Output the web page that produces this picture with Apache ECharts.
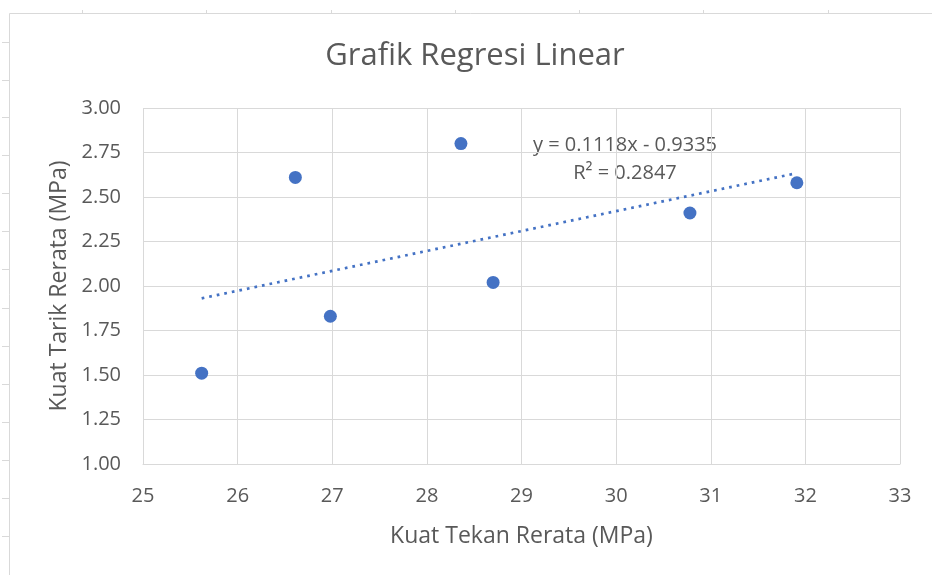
<!DOCTYPE html>
<html>
<head>
<meta charset="utf-8">
<script src="https://cdn.jsdelivr.net/npm/echarts@6/dist/echarts.min.js"></script>
<style>
  html, body { margin: 0; padding: 0; background: #ffffff; }
  #chart { width: 932px; height: 575px; }
</style>
</head>
<body>
<div id="chart"></div>
<script>
// ---- data ----
const chartTitle = 'Grafik Regresi Linear';
const xAxisTitle = 'Kuat Tekan Rerata (MPa)';
const yAxisTitle = 'Kuat Tarik Rerata (MPa)';
const kuatTekan = [25.62, 26.61, 26.98, 28.36, 28.70, 30.78, 31.91];
const kuatTarik = [1.51, 2.61, 1.83, 2.80, 2.02, 2.41, 2.58];
const trendSlope = 0.1118;
const trendIntercept = -0.9335;
const equationLabel = 'y = 0.1118x - 0.9335';
const r2Label = 'R² = 0.2847';
const xRange = [25, 33, 1];
const yRange = [1, 3, 0.25];

// ---- spreadsheet frame decoration (layout only) ----
const sheetColTicks = [82, 206, 331, 455, 579, 703, 828];
const sheetRowTicks = [42, 80, 117, 155, 193, 231, 269, 308, 346, 384, 422, 460, 498, 536];

const TEXT = '#595959';
const GRID = '#D9D9D9';
const BLUE = '#4472C4';
const FONT = '"Open Sans", sans-serif';

const points = kuatTekan.map((x, i) => [x, kuatTarik[i]]);
const xMinData = Math.min(...kuatTekan);
const xMaxData = Math.max(...kuatTekan);
const trendPoints = [
  [xMinData, trendSlope * xMinData + trendIntercept],
  [xMaxData, trendSlope * xMaxData + trendIntercept]
];

const graphics = [];
graphics.push({ type: 'line', silent: true, shape: { x1: 9.5, y1: 13.5, x2: 932, y2: 13.5 }, style: { stroke: GRID, lineWidth: 1 } });
graphics.push({ type: 'line', silent: true, shape: { x1: 9.5, y1: 13.5, x2: 9.5, y2: 575 }, style: { stroke: GRID, lineWidth: 1 } });
sheetColTicks.forEach(x => graphics.push({ type: 'line', silent: true, shape: { x1: x + 0.5, y1: 10, x2: x + 0.5, y2: 13 }, style: { stroke: GRID, lineWidth: 1 } }));
sheetRowTicks.forEach(y => graphics.push({ type: 'line', silent: true, shape: { x1: 2, y1: y + 0.5, x2: 9, y2: y + 0.5 }, style: { stroke: GRID, lineWidth: 1 } }));
graphics.push({ type: 'text', silent: true, x: 625, y: 145, style: { text: equationLabel, fill: TEXT, font: '20px ' + FONT, textAlign: 'center', textVerticalAlign: 'middle' } });
graphics.push({ type: 'text', silent: true, x: 625, y: 173.5, style: { text: r2Label, fill: TEXT, font: '20px ' + FONT, textAlign: 'center', textVerticalAlign: 'middle' } });

const chart = echarts.init(document.getElementById('chart'));
chart.setOption({
  backgroundColor: '#ffffff',
  animation: false,
  title: {
    text: chartTitle,
    left: 475,
    top: 41,
    padding: 0,
    textAlign: 'center',
    textStyle: { fontFamily: FONT, fontSize: 31, fontWeight: 'normal', color: TEXT }
  },
  grid: { left: 143, right: 32, top: 108, bottom: 111 },
  xAxis: {
    type: 'value',
    min: xRange[0], max: xRange[1], interval: xRange[2],
    name: xAxisTitle,
    nameLocation: 'middle',
    nameGap: 61,
    nameTextStyle: { fontFamily: FONT, fontSize: 23, color: TEXT },
    axisLine: { show: true, lineStyle: { color: GRID, width: 1 } },
    axisTick: { show: false },
    axisLabel: { margin: 22, fontFamily: FONT, fontSize: 20, color: TEXT },
    splitLine: { show: true, lineStyle: { color: GRID, width: 1 } }
  },
  yAxis: {
    type: 'value',
    min: yRange[0], max: yRange[1], interval: yRange[2],
    name: yAxisTitle,
    nameLocation: 'middle',
    nameGap: 72,
    nameTextStyle: { fontFamily: FONT, fontSize: 23, color: TEXT },
    axisLine: { show: false },
    axisTick: { show: false },
    axisLabel: { margin: 22, padding: [4, 0, 0, 0], fontFamily: FONT, fontSize: 20, color: TEXT, formatter: v => v.toFixed(2) },
    splitLine: { show: true, lineStyle: { color: GRID, width: 1 } }
  },
  series: [
    {
      type: 'line',
      data: trendPoints,
      symbol: 'none',
      silent: true,
      lineStyle: { color: BLUE, width: 2.7, type: [2.7, 5], cap: 'butt' },
      z: 2
    },
    {
      type: 'scatter',
      data: points,
      symbol: 'circle',
      symbolSize: 13,
      itemStyle: { color: BLUE, opacity: 1 },
      z: 3
    }
  ],
  graphic: graphics
});
</script>
</body>
</html>
